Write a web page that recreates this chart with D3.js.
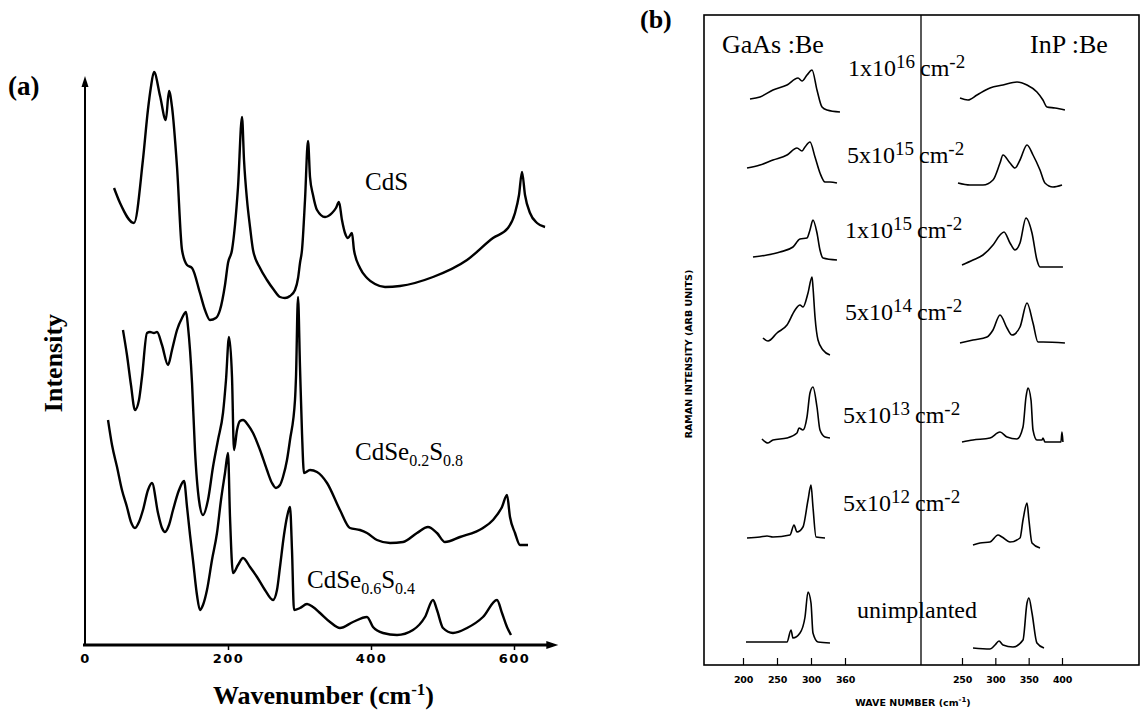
<!DOCTYPE html>
<html><head><meta charset="utf-8">
<script src="https://cdn.jsdelivr.net/npm/d3@7/dist/d3.min.js"></script>
<style>body{margin:0;background:#fff}svg{display:block}</style>
</head><body>
<svg id="c" width="1143" height="716"></svg>
<script>
// ---------- Panel (a) data: [wavenumber cm-1, intensity arb.] ----------
const cdsSpectrum = [[40.6,457],[49,442],[68.5,422],[81,485],[88,535],[92,557],[96.5,573],[105,549],[113,525],[117.5,554],[121.7,538],[128.7,478],[135.7,395],[142.7,380],[149.7,377],[160.8,352],[167.8,335],[174.8,325],[183,327],[188.8,335],[195.8,360],[200,382],[205.6,395],[214,458],[219.6,528],[222.4,485],[226.6,445],[230.8,418],[235,395],[244.8,377],[254.5,365],[264.3,355],[272.7,348],[279.7,347],[286.7,349],[293.7,355],[298,367],[300.7,382],[303.5,395],[307.7,445],[311.9,504],[314.7,468],[318.9,450],[324.5,435],[335.7,428],[345.5,432],[351,437],[355.2,443],[359.4,425],[363.6,412],[367.8,407],[373.4,412],[376.2,395],[384.6,377],[394.4,367],[405.6,361],[419.6,358],[440.6,359],[486.7,368],[534.3,385],[570.6,407],[591.6,417],[601.4,432],[607,450],[611.2,473],[615.4,450],[622.4,432],[632.2,422],[643.4,418]];
const cdse02Spectrum = [[53.1,315],[58.7,290],[64.3,260],[69.9,235],[75.5,245],[79.7,268],[86.7,312],[90.9,313],[96.5,312],[100.7,313],[107.7,300],[116.1,280],[121.7,295],[128.7,315],[135.7,327],[141.3,333],[144.1,318],[149.7,262],[153.8,195],[159.4,145],[165,130],[172,145],[179,178],[186,205],[193,232],[197.2,265],[201.4,308],[205.6,268],[208.4,195],[212.6,215],[216.8,224],[221,225],[228,220],[235,212],[244.8,195],[254.5,175],[261.5,162],[267.1,157],[272.7,160],[276.9,168],[282.5,185],[286.7,205],[293.7,245],[295.1,268],[297.9,348],[300.7,278],[303.5,212],[306.3,172],[314.7,175],[324.5,173],[338.5,162],[356.6,135],[370.6,117],[384.6,115],[394.4,112],[408.4,105],[426.6,102],[444.8,103],[464.3,112],[479.7,118],[492.3,112],[503.5,103],[524.5,108],[556.6,117],[570.6,125],[583.2,138],[590.2,150],[594.4,128],[601.4,112],[608.4,100],[619.6,100]];
const cdse06Spectrum = [[32.2,225],[37.8,200],[44.8,178],[51.7,155],[58.7,138],[64.3,123],[69.9,117],[75.5,123],[81.1,135],[88.1,155],[93.7,162],[102.1,132],[107.7,117],[111.9,113],[117.5,120],[123.1,135],[131.5,155],[138.5,164],[142.7,138],[146.9,110],[151,85],[156.6,50],[160.8,35],[165,40],[170.6,55],[177.6,85],[184.6,112],[190.2,145],[195.8,172],[200,192],[202.8,128],[207,72],[214,80],[221,87],[230.8,78],[240.6,68],[251.7,55],[262.9,45],[268.5,55],[272.7,78],[278.3,110],[282.5,128],[286.7,138],[289.5,95],[292.3,35],[300.7,37],[310.5,41],[318.9,38],[328.7,32],[342.7,23],[356.6,17],[374.8,23],[394.4,28],[402.8,18],[416.8,12],[436.4,10],[458.7,15],[475.5,28],[486.7,45],[492.3,35],[500.7,17],[514.7,12],[534.3,17],[556.6,28],[576.2,45],[583.2,32],[590.2,18],[595.8,10]];
const aTickValues = [0,200,400,600];
const aTickLabels = ["0","200","400","600"];

// ---------- Panel (b) data: [wavenumber cm-1, Raman intensity arb.] ----------
const gaas1e16 = [[210.3,566],[225,568],[244.1,575],[264.7,580],[280.9,587],[286.8,584],[294.1,590],[301.5,595],[308.8,575],[316.2,558],[323.5,555],[342.6,553]];
const inp1e16  = [[247,567],[259,565],[272.5,570],[292,577],[311.5,580],[332.5,583],[347.5,580],[362.4,573],[371.4,565],[377.4,558],[389.4,557],[404.4,555]];
const gaas5e15 = [[205.9,497],[225,500],[244.1,505],[264.7,510],[279.4,517],[286.8,514],[291.2,518],[298.5,523],[305.9,508],[313.2,492],[320.6,483],[327.9,483],[338.2,482]];
const inp5e15  = [[244,482],[262,480],[281.5,480],[296.5,485],[307,502],[311.5,510],[322,502],[329.5,497],[337,505],[347.5,520],[356.5,510],[367,495],[374.4,482],[386.4,478],[400,480]];
const gaas1e15 = [[214.7,408],[235.3,410],[254.4,413],[273.5,418],[283.8,426],[294.1,427],[298.5,435],[302.9,445],[308.8,432],[313.2,415],[317.6,407],[338.2,405]];
const inp1e15  = [[250,400],[266.5,405],[281.5,410],[296.5,420],[307,430],[313,433],[322,422],[329.5,415],[337,422],[346,447],[355,432],[362.4,405],[367,398],[401.4,398]];
const gaas5e14 = [[229.4,327],[236.8,324],[250,332],[264.7,340],[276.5,355],[283.8,360],[288.2,358],[295.6,372],[301.5,388],[302.9,378],[305.9,348],[310.3,325],[317.6,315],[327.9,310]];
const inp5e14  = [[247,322],[266.5,325],[287.5,328],[296.5,335],[307,350],[317.5,337],[325,330],[337,338],[347.5,362],[356.5,342],[364,323],[371.5,323],[404.4,322]];
const gaas5e13 = [[227.9,226],[236.8,222],[244.1,225],[264.7,227],[279.4,232],[282.4,237],[288.2,235],[294.1,248],[298.5,272],[302.9,278],[308.8,258],[313.2,235],[320.6,228],[327.9,227]];
const inp5e13  = [[250,223],[266.5,225],[292,227],[307,233],[317.5,228],[332.5,226],[341.5,238],[346,268],[349,277],[353.5,265],[356.5,235],[362.4,225],[370,225],[371.5,227],[374.4,223],[398.4,223],[400,233],[401.4,223]];
const gaas5e12 = [[205.9,127],[225,128],[235.3,129],[244.1,128],[269.1,130],[275,140],[279.4,133],[288.2,138],[295.6,165],[300,180],[302.9,158],[307.4,128],[320.6,127]];
const inp5e12  = [[266.5,120],[277,122],[292,123],[304,130],[310,128],[322,123],[337,127],[341.5,145],[347.5,162],[350.4,145],[355,122],[367,117]];
const gaasUnimp = [[204.4,23],[220.6,23],[244.1,23],[264.7,23],[270.6,35],[273.5,27],[283.8,32],[291.2,48],[295.6,73],[300,62],[302.9,32],[310.3,23],[327.9,22]];
const inpUnimp  = [[266.5,17],[292,16],[299.5,20],[305.5,24],[311.5,20],[326.5,18],[341.5,25],[347.5,62],[350.4,67],[355,52],[362.4,22],[373,17]];
const doseMantissa = ["1x10","5x10","1x10","5x10","5x10","5x10"];
const doseExponent = ["16","15","15","14","13","12"];
const bLeftTickValues = [200,250,300,350];
const bLeftTickLabels = ["200","250","300","360"];
const bRightTickValues = [250,300,350,400];
const bRightTickLabels = ["250","300","350","400"];

// ---------- drawing ----------
const svg = d3.select('#c');
const serif = "'Liberation Serif','Times New Roman',serif";
const sans = "'DejaVu Sans','Liberation Sans',sans-serif";

// Panel (a)
const xA = d3.scaleLinear().domain([0,600]).range([85,514]);
const yA = d3.scaleLinear().domain([0,567]).range([645,78]);
const lineA = d3.line().x(d=>xA(d[0])).y(d=>yA(d[1])).curve(d3.curveMonotoneX);
const gA = svg.append('g');
[cdsSpectrum, cdse02Spectrum, cdse06Spectrum].forEach(s=>{
  gA.append('path').datum(s).attr('d',lineA).attr('fill','none')
    .attr('stroke','#000').attr('stroke-width',2.4).attr('stroke-linejoin','round');
});
// axes
const xAxisA = d3.axisBottom(xA).tickValues(aTickValues).tickSize(5)
  .tickFormat((d,i)=>aTickLabels[i]);
const gx = gA.append('g').attr('transform',`translate(0,${yA(0)})`).call(xAxisA);
gx.select('.domain').remove();
gx.selectAll('.tick line').attr('stroke','#000').attr('stroke-width',1.5)
  .filter(d=>d===0).remove();
gx.selectAll('.tick text').attr('dy',null).attr('y',18)
  .style('font-family',sans).style('font-weight','bold').style('font-size','13px')
  .style('letter-spacing','1.5px').attr('fill','#000');
const xEnd = xA(662);
gA.append('line').attr('x1',xA(0)-2).attr('x2',xEnd-6).attr('y1',yA(0)).attr('y2',yA(0))
  .attr('stroke','#000').attr('stroke-width',3);
gA.append('path').attr('d',`M${xEnd},${yA(0)} L${xEnd-12},${yA(0)-4} L${xEnd-12},${yA(0)+4} Z`).attr('fill','#000');
gA.append('line').attr('x1',xA(0)).attr('x2',xA(0)).attr('y1',yA(0)).attr('y2',yA(567)+6)
  .attr('stroke','#000').attr('stroke-width',2);
gA.append('path').attr('d',`M${xA(0)},${yA(567)-2} L${xA(0)-3.5},${yA(567)+9} L${xA(0)+3.5},${yA(567)+9} Z`).attr('fill','#000');

gA.append('text').attr('x',8).attr('y',95).text('(a)')
  .style('font-family',serif).style('font-weight','bold').style('font-size','27px');
gA.append('text').attr('transform','translate(62,363) rotate(-90)').attr('text-anchor','middle')
  .text('Intensity').style('font-family',serif).style('font-weight','bold').style('font-size','26px');
const tA = gA.append('text').attr('x',213).attr('y',704)
  .style('font-family',serif).style('font-weight','bold').style('font-size','26px');
tA.append('tspan').text('Wavenumber (cm');
tA.append('tspan').attr('dy',-9).style('font-size','17px').text('-1');
tA.append('tspan').attr('dy',9).text(')');

function formula(x,y,parts){
  const t = gA.append('text').attr('x',x).attr('y',y)
    .style('font-family',serif).style('font-size','25px');
  let sub=false;
  parts.forEach(p=>{
    const isSub = /^[0-9.]+$/.test(p);
    const ts = t.append('tspan').text(p);
    if(isSub && !sub){ts.attr('dy',6).style('font-size','16px');sub=true;}
    else if(isSub){ts.style('font-size','16px');}
    else if(sub){ts.attr('dy',-6);sub=false;}
  });
}
formula(365,190,['CdS']);
formula(355,460,['CdSe','0.2','S','0.8']);
formula(307,588,['CdSe','0.6','S','0.4']);

// Panel (b)
const xBL = d3.scaleLinear().domain([200,350]).range([743,845]);
const xBR = d3.scaleLinear().domain([250,400]).range([962,1062]);
const yB = d3.scaleLinear().domain([0,650]).range([665,15]);
const gB = svg.append('g');
gB.append('rect').attr('x',704).attr('y',15).attr('width',435).attr('height',650)
  .attr('fill','none').attr('stroke','#000').attr('stroke-width',1.6);
gB.append('line').attr('x1',921).attr('x2',921).attr('y1',15).attr('y2',665)
  .attr('stroke','#000').attr('stroke-width',1.3);
const lineBL = d3.line().x(d=>xBL(d[0])).y(d=>yB(d[1])).curve(d3.curveMonotoneX);
const lineBR = d3.line().x(d=>xBR(d[0])).y(d=>yB(d[1])).curve(d3.curveMonotoneX);
[gaas1e16,gaas5e15,gaas1e15,gaas5e14,gaas5e13,gaas5e12,gaasUnimp].forEach(s=>{
  gB.append('path').datum(s).attr('d',lineBL).attr('fill','none').attr('stroke','#000')
    .attr('stroke-width',1.6).attr('stroke-linejoin','round');
});
[inp1e16,inp5e15,inp1e15,inp5e14,inp5e13,inp5e12,inpUnimp].forEach(s=>{
  gB.append('path').datum(s).attr('d',lineBR).attr('fill','none').attr('stroke','#000')
    .attr('stroke-width',1.6).attr('stroke-linejoin','round');
});
function bAxis(scale, vals, labels){
  const ax = d3.axisBottom(scale).tickValues(vals).tickSizeInner(-7).tickSizeOuter(0)
    .tickFormat((d,i)=>labels[i]);
  const g = gB.append('g').attr('transform','translate(0,665)').call(ax);
  g.select('.domain').remove();
  g.selectAll('.tick line').attr('stroke','#000').attr('stroke-width',1.2);
  g.selectAll('.tick text').attr('dy',null).attr('y',18)
    .style('font-family',sans).style('font-weight','bold').style('font-size','9.5px')
    .style('letter-spacing','-0.3px').attr('fill','#000');
}
bAxis(xBL, bLeftTickValues, bLeftTickLabels);
bAxis(xBR, bRightTickValues, bRightTickLabels);
const tB = gB.append('text').attr('x',913).attr('y',706).attr('text-anchor','middle')
  .style('font-family',sans).style('font-weight','bold').style('font-size','9.5px');
tB.append('tspan').text('WAVE NUMBER (cm');
tB.append('tspan').attr('dy',-4).style('font-size','7px').text('-1');
tB.append('tspan').attr('dy',4).text(')');
gB.append('text').attr('transform','translate(692,354) rotate(-90)').attr('text-anchor','middle')
  .text('RAMAN INTENSITY (ARB UNITS)').style('font-family',sans).style('font-weight','bold')
  .style('font-size','9.5px');
gB.append('text').attr('x',640).attr('y',28).text('(b)')
  .style('font-family',serif).style('font-weight','bold').style('font-size','26px');
gB.append('text').attr('x',722).attr('y',53).text('GaAs :Be')
  .style('font-family',serif).style('font-size','26px');
gB.append('text').attr('x',1030).attr('y',53).text('InP :Be')
  .style('font-family',serif).style('font-size','26px');
const doseLabelPos = [[848,76],[847,163],[845,238],[845,320],[843,423],[843,511]];
doseMantissa.forEach((m,i)=>{
  const t = gB.append('text').attr('x',doseLabelPos[i][0]).attr('y',doseLabelPos[i][1])
    .style('font-family',serif).style('font-size','24px');
  t.append('tspan').text(m);
  t.append('tspan').attr('dy',-8).style('font-size','19px').text(doseExponent[i]);
  t.append('tspan').attr('dy',8).attr('dx',5).text('cm');
  t.append('tspan').attr('dy',-8).style('font-size','19px').text('-2');
});
gB.append('text').attr('x',857).attr('y',618).text('unimplanted')
  .style('font-family',serif).style('font-size','24px');
</script>
</body></html>
